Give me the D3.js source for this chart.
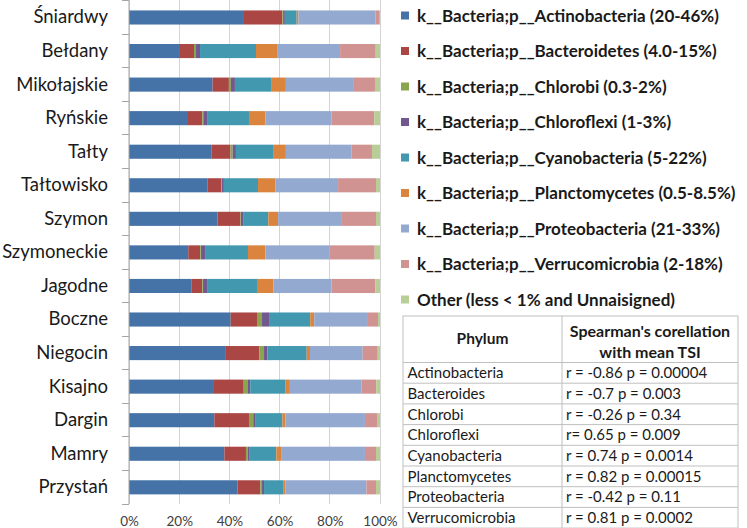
<!DOCTYPE html>
<html><head><meta charset="utf-8">
<script src="https://cdn.jsdelivr.net/npm/d3@7"></script>
<style>
html,body{margin:0;padding:0;background:#fff;}
svg{display:block;font-family:Lato,"Open Sans",sans-serif;}
</style></head>
<body>
<svg id="chart" width="747" height="528"></svg>
<script>
const lakes = ["Śniardwy","Bełdany","Mikołajskie","Ryńskie","Tałty","Tałtowisko","Szymon","Szymoneckie","Jagodne","Boczne","Niegocin","Kisajno","Dargin","Mamry","Przystań"];
const seriesNames = ["k__Bacteria;p__Actinobacteria (20-46%)","k__Bacteria;p__Bacteroidetes (4.0-15%)","k__Bacteria;p__Chlorobi (0.3-2%)","k__Bacteria;p__Chloroflexi (1-3%)","k__Bacteria;p__Cyanobacteria (5-22%)","k__Bacteria;p__Planctomycetes (0.5-8.5%)","k__Bacteria;p__Proteobacteria (21-33%)","k__Bacteria;p__Verrucomicrobia (2-18%)","Other (less < 1% and Unnaisigned)"];
const colors = ["#4572A7","#AA4643","#89A54E","#71588F","#4198AF","#DB843D","#93A9CF","#D19392","#B9CD96"];
// values per lake, in order of lakes
const actinobacteria  = [45.8,20.3,33.3,23.5,32.8,31.2,35.3,23.6,25.0,40.5,38.6,33.5,34.0,38.0,43.2];
const bacteroidetes   = [15.3, 5.6, 6.5, 5.7, 7.6, 5.6, 9.1, 4.8, 4.2,10.5,13.3,12.2,13.8, 8.6, 9.1];
const chlorobi        = [ 0.3, 0.8, 0.8, 0.4, 0.9, 0.2, 0.2, 0.3, 0.3, 2.0, 1.9, 1.7, 1.7, 0.7, 0.7];
const chloroflexi     = [ 0.7, 1.6, 1.6, 1.5, 1.3, 0.8, 1.1, 1.6, 1.6, 2.8, 1.4, 0.9, 1.0, 0.8, 0.8];
const cyanobacteria   = [ 4.7,22.3,14.4,16.7,14.8,13.6, 9.8,17.1,19.9,16.4,15.6,14.1,10.6,10.6, 7.6];
const planctomycetes  = [ 0.7, 8.4, 5.9, 6.6, 5.1, 7.0, 3.9, 6.9, 6.5, 1.6, 1.3, 1.7, 1.2, 1.9, 1.0];
const proteobacteria  = [30.7,25.1,27.1,26.3,26.1,24.9,25.1,25.6,23.2,21.4,21.0,28.5,31.7,33.4,32.2];
const verrucomicrobia = [ 1.7,14.2, 8.4,17.0, 8.2,15.1,13.9,18.0,17.4, 4.0, 6.0, 5.9, 4.8, 4.4, 3.8];
const other           = [ 0.1, 1.7, 2.0, 2.3, 3.2, 1.6, 1.6, 2.1, 1.9, 0.8, 0.9, 1.5, 1.2, 1.6, 1.6];
const xTicks = [0,20,40,60,80,100];
const tablePhyla = ["Actinobacteria","Bacteroides","Chlorobi","Chloroflexi","Cyanobacteria","Planctomycetes","Proteobacteria","Verrucomicrobia"];
const tableCorr = ["r = -0.86 p = 0.00004","r = -0.7 p = 0.003","r = -0.26 p = 0.34","r= 0.65 p = 0.009","r = 0.74 p = 0.0014","r = 0.82 p = 0.00015","r = -0.42 p = 0.11","r = 0.81 p = 0.0002"];

const seriesVals = [actinobacteria,bacteroidetes,chlorobi,chloroflexi,cyanobacteria,planctomycetes,proteobacteria,verrucomicrobia,other];
const keys = seriesNames.map((d,i)=>"s"+i);
const rows = lakes.map((l,j)=>{const o={lake:l}; keys.forEach((k,i)=>o[k]=seriesVals[i][j]); return o;});
const stacked = d3.stack().keys(keys).offset(d3.stackOffsetExpand)(rows);

const svg = d3.select("#chart");
const x = d3.scaleLinear().domain([0,1]).range([129,380]);
const y = d3.scaleBand().domain(lakes).range([0.7,504.1]).paddingInner(0.58).paddingOuter(0.29);

// gridlines
svg.append("g").selectAll("line").data(xTicks).join("line")
  .attr("x1",d=>x(d/100)).attr("x2",d=>x(d/100)).attr("y1",0).attr("y2",504)
  .attr("stroke","#d4d4d4").attr("stroke-width",1).attr("shape-rendering","crispEdges");

// bars
svg.append("g").selectAll("g").data(stacked).join("g")
  .attr("fill",(d,i)=>colors[i])
  .selectAll("rect").data(d=>d).join("rect")
  .attr("x",d=>x(d[0])).attr("width",d=>Math.max(0,x(d[1])-x(d[0])))
  .attr("y",d=>y(d.data.lake)).attr("height",y.bandwidth());

// left axis
const yAxis = svg.append("g").attr("transform","translate(129,0)")
  .call(d3.axisLeft(y).tickSize(0).tickPadding(21));
yAxis.select(".domain").attr("stroke","#a6a6a6").attr("d","M0,0.7V504.1");
yAxis.selectAll("text").attr("font-size","18.5px").attr("fill","#1a1a1a").attr("font-family","Lato,sans-serif");
// boundary ticks
const bounds = d3.range(lakes.length+1).map(i=>0.7+i*y.step());
svg.append("g").selectAll("line").data(bounds).join("line")
  .attr("x1",122).attr("x2",129).attr("y1",d=>d).attr("y2",d=>d)
  .attr("stroke","#a6a6a6").attr("shape-rendering","crispEdges");

// x tick labels
svg.append("g").attr("transform","translate(0,504)")
  .call(d3.axisBottom(x).tickValues(xTicks.map(d=>d/100)).tickFormat(d=>Math.round(d*100)+"%").tickSize(0).tickPadding(12))
  .call(g=>g.select(".domain").remove())
  .selectAll("text").attr("font-size","13.5px").attr("fill","#404040").attr("font-family","Lato,sans-serif");

// legend
const lg = svg.append("g");
seriesNames.forEach((n,i)=>{
  const cy = 16 + i*35.5;
  lg.append("rect").attr("x",401).attr("y",cy-4.5).attr("width",8).attr("height",8).attr("fill",colors[i]);
  lg.append("text").attr("x",417).attr("y",cy).attr("dy","0.35em")
    .attr("font-size","17px").attr("font-weight","bold").attr("fill","#1a1a1a").text(n);
});

// table
const tb = svg.append("g").attr("font-family","Lato,sans-serif");
const tL=403, tM=562, tR=738, tTop=316, hdrB=362.5, rowH=20.7;
const tBottom = hdrB + tablePhyla.length*rowH;
tb.append("rect").attr("x",tL).attr("y",tTop).attr("width",tR-tL).attr("height",tBottom-tTop)
  .attr("fill","none").attr("stroke","#bfbfbf");
tb.append("line").attr("x1",tM).attr("x2",tM).attr("y1",tTop).attr("y2",tBottom).attr("stroke","#bfbfbf");
d3.range(tablePhyla.length).forEach(i=>{
  tb.append("line").attr("x1",tL).attr("x2",tR).attr("y1",hdrB+i*rowH).attr("y2",hdrB+i*rowH).attr("stroke","#bfbfbf");
});
tb.append("text").attr("x",(tL+tM)/2).attr("y",339).attr("dy","0.35em").attr("text-anchor","middle")
  .attr("font-size","15.5px").attr("font-weight","bold").attr("fill","#1a1a1a").text("Phylum");
tb.append("text").attr("x",(tM+tR)/2).attr("y",331.5).attr("dy","0.35em").attr("text-anchor","middle")
  .attr("font-size","16px").attr("font-weight","bold").attr("fill","#1a1a1a").text("Spearman's corellation");
tb.append("text").attr("x",(tM+tR)/2).attr("y",352.5).attr("dy","0.35em").attr("text-anchor","middle")
  .attr("font-size","16px").attr("font-weight","bold").attr("fill","#1a1a1a").text("with mean TSI");
tablePhyla.forEach((p,i)=>{
  const cy = hdrB + i*rowH + rowH/2;
  tb.append("text").attr("x",407.5).attr("y",cy).attr("dy","0.35em").attr("font-size","15px").attr("fill","#1a1a1a").text(p);
  tb.append("text").attr("x",566).attr("y",cy).attr("dy","0.35em").attr("font-size","15px").attr("fill","#1a1a1a").text(tableCorr[i]);
});
</script>
</body></html>
